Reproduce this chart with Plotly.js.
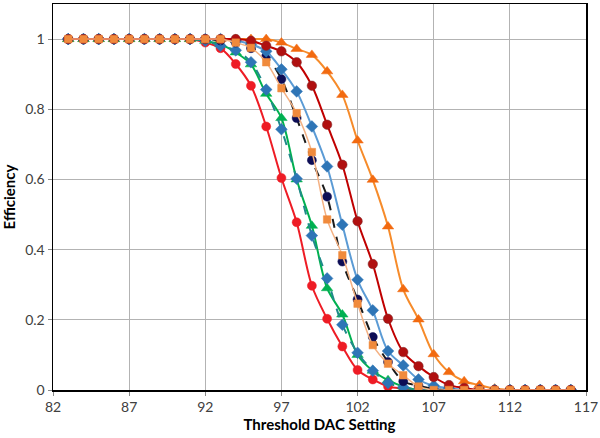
<!DOCTYPE html>
<html>
<head>
<meta charset="utf-8">
<script src="https://cdn.plot.ly/plotly-3.0.1.min.js"></script>
<style>html,body{margin:0;padding:0;background:#fff;}#chart{width:600px;height:438px;}</style>
</head>
<body>
<div id="chart"></div>
<script>
const dac = [83,84,85,86,87,88,89,90,91,92,93,94,95,96,97,98,99,100,101,102,103,104,105,106,107,108,109,110,111,112,113,114,115,116];

const redCircles = [1,1,1,1,1,1,1,1,1,0.99,0.974,0.929,0.867,0.751,0.604,0.478,0.297,0.203,0.124,0.057,0.03,0.01,0.004,0,0,0,0,0,0,0,0,0,0,0];
const greenTriangles = [1,1,1,1,1,1,1,1,1,0.995,0.985,0.962,0.928,0.844,0.775,0.60,0.468,0.29,0.215,0.10,0.055,0.028,0.01,0,0,0,0,0,0,0,0,0,0,0];
const tealDiamonds = [1,1,1,1,1,1,1,1,1,0.995,0.981,0.968,0.934,0.856,0.743,0.602,0.44,0.318,0.186,0.106,0.055,0.02,0.008,0,0,0,0,0,0,0,0,0,0,0];
const navyCircles = [1,1,1,1,1,1,1,1,1,1,0.996,0.99,0.974,0.951,0.886,0.775,0.655,0.551,0.366,0.258,0.151,0.08,0.025,0.012,0.003,0,0,0,0,0,0,0,0,0];
const orangeSquares = [1,1,1,1,1,1,1,1,1,1,1,0.99,0.975,0.934,0.86,0.789,0.678,0.486,0.384,0.246,0.128,0.075,0.042,0.01,0,0,0,0,0,0,0,0,0,0];
const blueDiamonds = [1,1,1,1,1,1,1,1,1,1,1,0.995,0.985,0.965,0.914,0.851,0.751,0.637,0.471,0.314,0.227,0.111,0.07,0.03,0.012,0.005,0,0,0,0,0,0,0,0];
const darkRedCircles = [1,1,1,1,1,1,1,1,1,1,1,1,0.995,0.981,0.965,0.934,0.867,0.756,0.642,0.481,0.359,0.203,0.108,0.068,0.037,0.014,0.006,0,0,0,0,0,0,0];
const orangeTriangles = [1,1,1,1,1,1,1,1,1,1,1,1,1,1,0.99,0.972,0.955,0.908,0.841,0.711,0.599,0.466,0.287,0.201,0.102,0.051,0.025,0.014,0.004,0,0,0,0,0];

const xTicks = [82,87,92,97,102,107,112,117];
const yTicks = [0,0.2,0.4,0.6,0.8,1];

function tr(y, lineColor, lineDash, lineWidth, mColor, mSymbol, mSize, mLine) {
  return {
    x: dac, y: y, type: 'scatter', mode: 'lines+markers',
    line: {color: lineColor, dash: lineDash, width: lineWidth, shape: 'spline', smoothing: 0.9},
    marker: {color: mColor, symbol: mSymbol, size: mSize, line: {color: mLine || mColor, width: 0.5}},
    showlegend: false, hoverinfo: 'x+y'
  };
}

const data = [
  tr(orangeTriangles, '#f68b2a', 'solid', 2, '#f26a10', 'triangle-up', 10),
  tr(redCircles, '#ee1c25', 'solid', 2, '#ee1c25', 'circle', 9),
  tr(greenTriangles, '#00b050', 'solid', 2, '#00b050', 'triangle-up', 10),
  tr(tealDiamonds, '#1f8a8a', 'dash', 2, '#2e75b6', 'diamond', 9),
  tr(navyCircles, '#1a1a1a', 'dash', 2, '#0d0d55', 'circle', 9),
  tr(blueDiamonds, '#5b9bd5', 'solid', 2, '#2e75b6', 'diamond', 9),
  tr(darkRedCircles, '#c00000', 'solid', 2, '#b01010', 'circle', 9.5, '#7a2a2a'),
  tr(orangeSquares, '#f4b183', 'solid', 1.5, '#f08a3c', 'square', 7.5)
];

const layout = {
  width: 600, height: 438,
  margin: {l: 53, r: 14, t: 4, b: 48},
  paper_bgcolor: '#ffffff', plot_bgcolor: '#ffffff',
  font: {family: 'Lato, "Open Sans", sans-serif', size: 14, color: '#404040'},
  xaxis: {
    range: [82, 117], tickvals: xTicks, ticktext: xTicks.map(String),
    showgrid: true, gridcolor: '#b3b3b3', gridwidth: 1,
    showline: true, linecolor: '#000000', linewidth: 1.5, mirror: true,
    ticks: 'outside', ticklen: 4, tickcolor: '#888888',
    zeroline: false,
    tickfont: {size: 14, color: '#404040'},
    title: {text: '<b>Threshold DAC Setting</b>', font: {size: 15, color: '#000000'}, standoff: 4}
  },
  yaxis: {
    range: [0, 1.1], tickvals: yTicks, ticktext: ['0','0.2','0.4','0.6','0.8','1'],
    showgrid: true, gridcolor: '#b3b3b3', gridwidth: 1,
    showline: true, linecolor: '#000000', linewidth: 1.5, mirror: true,
    ticks: 'outside', ticklen: 4, tickcolor: '#888888',
    zeroline: false,
    tickfont: {size: 14, color: '#404040'},
    title: {text: '<b>Efficiency</b>', font: {size: 15, color: '#000000'}, standoff: 8}
  }
};

Plotly.newPlot('chart', data, layout, {displayModeBar: false, staticPlot: true});
</script>
</body>
</html>
